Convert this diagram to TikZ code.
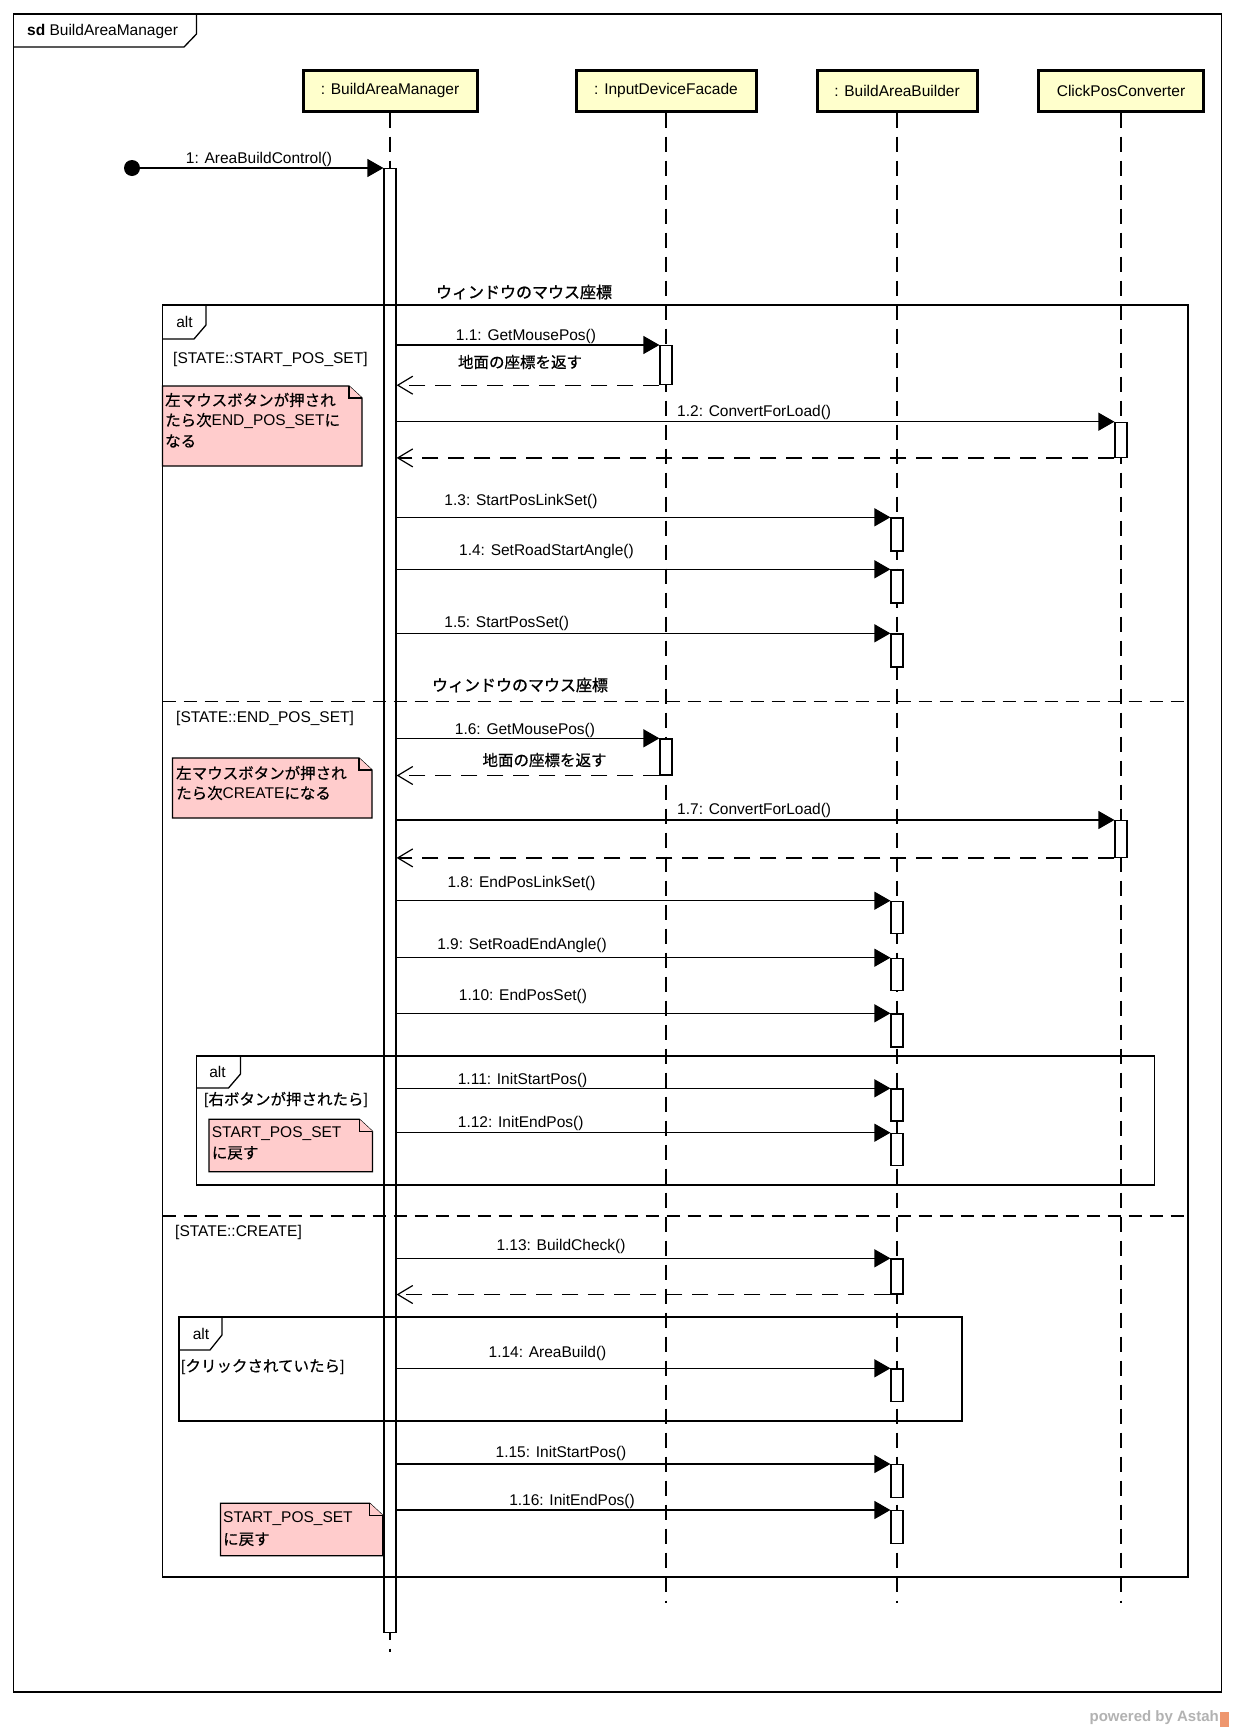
\documentclass[tikz,border=0pt]{standalone}
\usepackage{fontspec}
\setmainfont{Liberation Sans}
\newfontfamily\jpf{Noto Sans CJK JP}[FakeBold=0.5]
\newfontfamily\jpheavy{Noto Sans CJK JP}[FakeBold=1.2]
\newcommand\jtx[1]{{\jpf #1}}
\usetikzlibrary{arrows.meta}
\definecolor{headfill}{RGB}{255,255,204}
\definecolor{notefill}{RGB}{255,204,204}
\definecolor{wmgray}{RGB}{178,178,178}
\definecolor{wmlogo}{RGB}{238,150,110}

% sticky note with folded corner: x0,y0,x1,y1
\newcommand\notebox[4]{%
  \filldraw[notepath] (#1,#2) -- ({#3-13},#2) -- (#3,{#2+12}) -- (#3,#4) -- (#1,#4) -- cycle;
  \draw[notepath] ({#3-13},#2) -- ({#3-13},{#2+12}) -- (#3,{#2+12});}

\begin{document}
\begin{tikzpicture}[x=1pt,y=-1pt,
  font=\fontsize{15.5}{18}\selectfont,
  head/.style={draw, line width=3pt, fill=headfill, minimum height=41pt, inner sep=0pt},
  act/.style={draw, fill=white, line width=1.2pt, minimum width=12pt, inner sep=0pt, anchor=north},
  life/.style={line width=1.5pt, dash pattern=on 15pt off 9pt},
  sync/.style={line width=1.2pt, -{Triangle[length=16pt,width=18pt]}},
  reply/.style={line width=1.2pt, dash pattern=on 16pt off 10pt, -{Straight Barb[length=15pt,width=18pt]}},
  frm/.style={line width=1.3pt},
  sep/.style={line width=1.3pt, dash pattern=on 13pt off 8pt},
  lbl/.style={inner sep=0pt},
  notepath/.style={fill=notefill, draw, line width=1.2pt, line join=miter},
  notetxt/.style={inner sep=0pt, anchor=west}
]
\fill[white] (0,0) rectangle (1234,1732);
\useasboundingbox (0,0) rectangle (1234,1732);

% ---------- diagram frame ----------
\draw[frm] (13.5,14) rectangle (1221.5,1692);
\draw[frm] (13.5,47) -- (184,47) -- (196.5,34) -- (196.5,14);
\node[lbl, anchor=west] (sdname) at (27,31.5) {{\bfseries sd} BuildAreaManager};

% ---------- lifeline heads ----------
\node[head, minimum width=174pt] (hBAM) at (390,90.5) {: BuildAreaManager};
\node[head, minimum width=180pt] (hIDF) at (666,90.5) {: InputDeviceFacade};
\node[head, minimum width=160pt] (hBAB) at (897,90.5) {: BuildAreaBuilder};
\node[head, minimum width=164.5pt] (hCPC) at (1121,90.5) {ClickPosConverter};

\coordinate (eBAM) at (390,1652);
\coordinate (eIDF) at (666,1603);
\coordinate (eBAB) at (897,1603);
\coordinate (eCPC) at (1121,1603);
\draw[life] (hBAM.south) -- (eBAM);
\draw[life] (hIDF.south) -- (eIDF);
\draw[life] (hBAB.south) -- (eBAB);
\draw[life] (hCPC.south) -- (eCPC);

% ---------- activation bars ----------
\node[act, minimum height=1464pt] (a0) at (390,168) {};
\node[act, minimum height=39pt] (a11) at (666,345) {};
\node[act, minimum height=35pt] (a12) at (1121,421.7) {};
\node[act, minimum height=33pt] (a13) at (897,517.3) {};
\node[act, minimum height=33pt] (a14) at (897,569.3) {};
\node[act, minimum height=33pt] (a15) at (897,633.3) {};
\node[act, minimum height=36pt] (a16) at (666,738.3) {};
\node[act, minimum height=36.7pt] (a17) at (1121,820) {};
\node[act, minimum height=32pt] (a18) at (897,900.7) {};
\node[act, minimum height=32pt] (a19) at (897,957.7) {};
\node[act, minimum height=33pt] (a110) at (897,1013.3) {};
\node[act, minimum height=32pt] (a111) at (897,1088.3) {};
\node[act, minimum height=32pt] (a112) at (897,1132.7) {};
\node[act, minimum height=35pt] (a113) at (897,1258.3) {};
\node[act, minimum height=32.5pt] (a114) at (897,1368.3) {};
\node[act, minimum height=33pt] (a115) at (897,1464) {};
\node[act, minimum height=33pt] (a116) at (897,1510) {};

% ---------- combined fragments ----------
\draw[frm] (162.5,305) rectangle (1188,1577);
\draw[frm] (162.5,339) -- (194,339) -- (206,325) -- (206,305);
\node[lbl] (alt0) at (184.5,321.5) {alt};
\draw[sep] (162.5,701.7) -- (1188,701.7);
\draw[sep] (162.5,1216) -- (1188,1216);

\draw[frm] (196.5,1056) rectangle (1154.3,1185);
\draw[frm] (196.5,1088) -- (228.5,1088) -- (240.5,1074) -- (240.5,1056);
\node[lbl] (alt1) at (217.5,1072) {alt};

\draw[frm] (179,1317) rectangle (962,1421);
\draw[frm] (179,1350) -- (210,1350) -- (222,1335) -- (222,1317);
\node[lbl] (alt2) at (201,1334) {alt};

% guards
\node[lbl, anchor=west] (g1) at (173,359) {[STATE::START\_POS\_SET]};
\node[lbl, anchor=west] (g2) at (176,718) {[STATE::END\_POS\_SET]};
\node[lbl, anchor=west] (g3) at (175,1232) {[STATE::CREATE]};
\node[lbl, anchor=west] (g4) at (204,1100) {[\jtx{右ボタンが押されたら}]};
\node[lbl, anchor=west] (g5) at (181,1367) {[\jtx{クリックされていたら}]};

\node[lbl, font=\fontsize{16}{18}\selectfont] (w1) at (524,292) {\jpheavy ウィンドウのマウス座標};
\node[lbl, font=\fontsize{16}{18}\selectfont] (w2) at (520,685) {\jpheavy ウィンドウのマウス座標};

% ---------- notes ----------
\notebox{162.5}{386}{362}{466}
\node[notetxt] (n1a) at (165,400) {\jtx{左マウスボタンが押され}};
\node[notetxt] (n1b) at (165,421) {\jtx{たら次}END\_POS\_SET\jtx{に}};
\node[notetxt] (n1c) at (165,441) {\jtx{なる}};

\notebox{172.5}{758}{372}{818}
\node[notetxt] (n2a) at (176,773) {\jtx{左マウスボタンが押され}};
\node[notetxt] (n2b) at (176,793) {\jtx{たら次}CREATE\jtx{になる}};

\notebox{209}{1119.3}{372.4}{1171.7}
\node[notetxt] (n3a) at (211.7,1134) {START\_POS\_SET};
\node[notetxt] (n3b) at (211.7,1153) {\jtx{に戻す}};

\notebox{220.5}{1503.3}{382.7}{1555.7}
\node[notetxt] (n4a) at (223,1518.3) {START\_POS\_SET};
\node[notetxt] (n4b) at (223,1539.3) {\jtx{に戻す}};

% ---------- messages ----------
\node[circle, fill=black, minimum size=16pt, inner sep=0pt] (start) at (132,168) {};
\draw[sync] (start) -- (a0.north west);
\node[lbl] (l1) at (259,159) {1: AreaBuildControl()};

\draw[sync] (a0.east |- a11.north) -- (a11.north west);
\node[lbl] (l11) at (526,336) {1.1: GetMousePos()};
\draw[reply] (a11.south west) -- (a0.east |- a11.south);
\node[lbl] (r11) at (520,362) {\jtx{地面の座標を返す}};

\draw[sync] (a0.east |- a12.north) -- (a12.north west);
\node[lbl, anchor=west] (l12) at (677,412) {1.2: ConvertForLoad()};
\draw[reply] (a12.south west) -- (a0.east |- a12.south);

\draw[sync] (a0.east |- a13.north) -- (a13.north west);
\node[lbl] (l13) at (521,501.7) {1.3: StartPosLinkSet()};
\draw[sync] (a0.east |- a14.north) -- (a14.north west);
\node[lbl] (l14) at (546.5,551.7) {1.4: SetRoadStartAngle()};
\draw[sync] (a0.east |- a15.north) -- (a15.north west);
\node[lbl] (l15) at (506.7,623.3) {1.5: StartPosSet()};

\draw[sync] (a0.east |- a16.north) -- (a16.north west);
\node[lbl] (l16) at (525,730) {1.6: GetMousePos()};
\draw[reply] (a16.south west) -- (a0.east |- a16.south);
\node[lbl] (r16) at (544.5,760) {\jtx{地面の座標を返す}};

\draw[sync] (a0.east |- a17.north) -- (a17.north west);
\node[lbl, anchor=west] (l17) at (677,810) {1.7: ConvertForLoad()};
\draw[reply] (a17.south west) -- (a0.east |- a17.south);

\draw[sync] (a0.east |- a18.north) -- (a18.north west);
\node[lbl] (l18) at (521.5,883.3) {1.8: EndPosLinkSet()};
\draw[sync] (a0.east |- a19.north) -- (a19.north west);
\node[lbl] (l19) at (522,945) {1.9: SetRoadEndAngle()};
\draw[sync] (a0.east |- a110.north) -- (a110.north west);
\node[lbl] (l110) at (523,996.7) {1.10: EndPosSet()};

\draw[sync] (a0.east |- a111.north) -- (a111.north west);
\node[lbl] (l111) at (522.6,1080) {1.11: InitStartPos()};
\draw[sync] (a0.east |- a112.north) -- (a112.north west);
\node[lbl] (l112) at (520.7,1123.3) {1.12: InitEndPos()};

\draw[sync] (a0.east |- a113.north) -- (a113.north west);
\node[lbl] (l113) at (561,1246.7) {1.13: BuildCheck()};
\draw[reply] (a113.south west) -- (a0.east |- a113.south);

\draw[sync] (a0.east |- a114.north) -- (a114.north west);
\node[lbl] (l114) at (547.5,1353.3) {1.14: AreaBuild()};

\draw[sync] (a0.east |- a115.north) -- (a115.north west);
\node[lbl] (l115) at (561,1453.3) {1.15: InitStartPos()};
\draw[sync] (a0.east |- a116.north) -- (a116.north west);
\node[lbl] (l116) at (572,1501) {1.16: InitEndPos()};

% ---------- footer ----------
\node[lbl, anchor=east, text=wmgray, font=\bfseries\fontsize{15}{18}\selectfont] (pw) at (1219,1718) {powered by Astah};
\fill[wmlogo] (1220,1712) rectangle (1229,1727);
\end{tikzpicture}
\end{document}
